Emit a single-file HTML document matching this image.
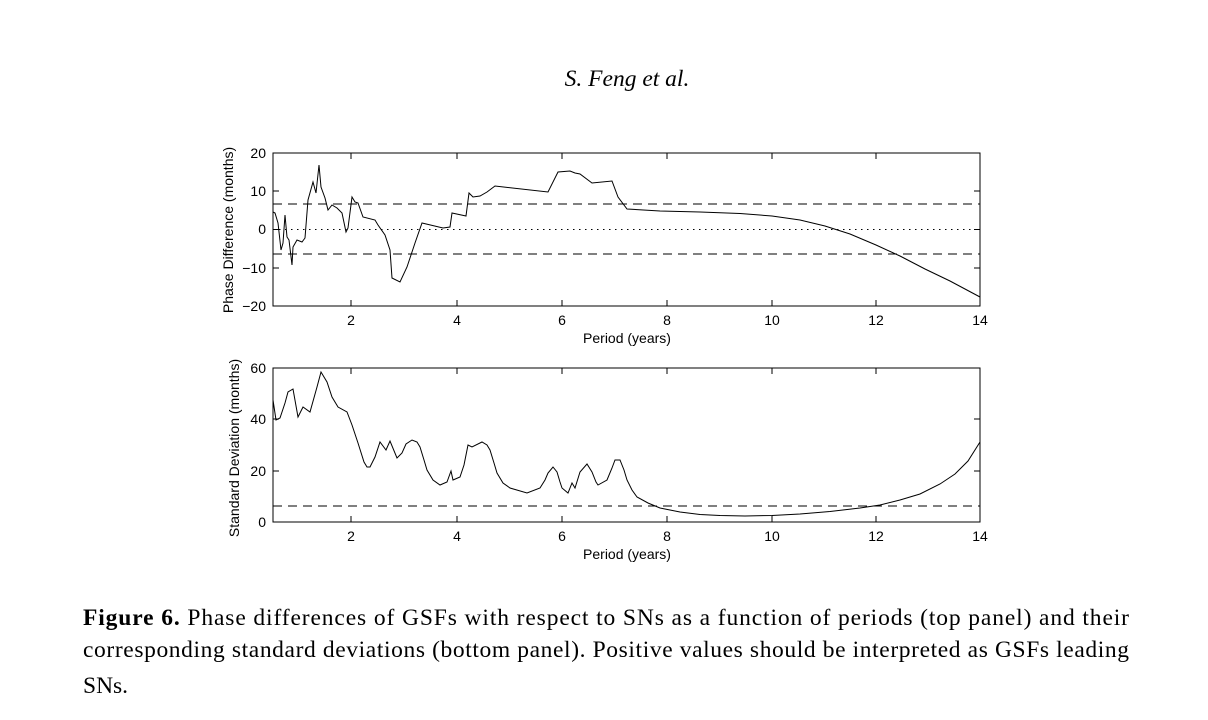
<!DOCTYPE html>
<html><head><meta charset="utf-8"><style>
body{margin:0;background:#fff;width:1208px;height:720px;overflow:hidden}
svg{display:block}
.t{font-family:"Liberation Sans",sans-serif;font-size:14px;fill:#000}
.s{font-family:"Liberation Serif",serif;font-size:23.5px;fill:#000}
</style></head><body>
<svg width="1208" height="720" viewBox="0 0 1208 720">
<text class="s" x="627" y="86" text-anchor="middle" font-style="italic" font-size="23">S. Feng et al.</text>

<!-- top panel -->
<rect x="273" y="153" width="707" height="153" fill="none" stroke="#000" stroke-width="1"/>
<g stroke="#000" stroke-width="1">
<line x1="351" y1="306" x2="351" y2="300"/><line x1="351" y1="153" x2="351" y2="159"/>
<line x1="457" y1="306" x2="457" y2="300"/><line x1="457" y1="153" x2="457" y2="159"/>
<line x1="562" y1="306" x2="562" y2="300"/><line x1="562" y1="153" x2="562" y2="159"/>
<line x1="667" y1="306" x2="667" y2="300"/><line x1="667" y1="153" x2="667" y2="159"/>
<line x1="772" y1="306" x2="772" y2="300"/><line x1="772" y1="153" x2="772" y2="159"/>
<line x1="876" y1="306" x2="876" y2="300"/><line x1="876" y1="153" x2="876" y2="159"/>
<line x1="273" y1="191" x2="279" y2="191"/><line x1="980" y1="191" x2="974" y2="191"/>
<line x1="273" y1="229.5" x2="279" y2="229.5"/><line x1="980" y1="229.5" x2="974" y2="229.5"/>
<line x1="273" y1="268" x2="279" y2="268"/><line x1="980" y1="268" x2="974" y2="268"/>
</g>
<line x1="273" y1="204" x2="980" y2="204" stroke="#000" stroke-dasharray="9,6"/>
<line x1="273" y1="254" x2="980" y2="254" stroke="#000" stroke-dasharray="9,6"/>
<line x1="273" y1="229.5" x2="980" y2="229.5" stroke="#000" stroke-dasharray="1.5,4.5"/>
<polyline fill="none" stroke="#000" stroke-width="1" points="273,212 275,213 278,223 281,250 283,243 285,215 287,237 289,240 292,265 293,247 297,240 302,242 305,238 308,200 313,182 316,193 319,165 321,187 325,198 328,210 332,205 337,208 342,213 346,232 348,228 352,197 355,202 358,203 363,217 375,220 378,225 385,235 390,250 392,278 400,282 407,267 415,243 422,223 443,228 450,227 452,213 466,216 469,193 473,197 480,196 487,192 495,186 548,192 558,172 570,171 575,173 580,174 592,183 612,181 618,197 627,209 660,211 700,212 740,213.5 772,216 800,220 825,226 850,234 876,245 900,256 925,269 950,281 965,289 980,297"/>
<g class="t">
<text x="266" y="158" text-anchor="end">20</text>
<text x="266" y="196" text-anchor="end">10</text>
<text x="266" y="234" text-anchor="end">0</text>
<text x="266" y="273" text-anchor="end">−10</text>
<text x="266" y="311" text-anchor="end">−20</text>
<text x="351" y="325" text-anchor="middle">2</text>
<text x="457" y="325" text-anchor="middle">4</text>
<text x="562" y="325" text-anchor="middle">6</text>
<text x="667" y="325" text-anchor="middle">8</text>
<text x="772" y="325" text-anchor="middle">10</text>
<text x="876" y="325" text-anchor="middle">12</text>
<text x="980" y="325" text-anchor="middle">14</text>
<text x="627" y="343" text-anchor="middle">Period (years)</text>
<text transform="translate(233,230) rotate(-90)" text-anchor="middle">Phase Difference (months)</text>
</g>

<!-- bottom panel -->
<rect x="273" y="368" width="707" height="154" fill="none" stroke="#000" stroke-width="1"/>
<g stroke="#000" stroke-width="1">
<line x1="351" y1="522" x2="351" y2="516"/><line x1="351" y1="368" x2="351" y2="374"/>
<line x1="457" y1="522" x2="457" y2="516"/><line x1="457" y1="368" x2="457" y2="374"/>
<line x1="562" y1="522" x2="562" y2="516"/><line x1="562" y1="368" x2="562" y2="374"/>
<line x1="667" y1="522" x2="667" y2="516"/><line x1="667" y1="368" x2="667" y2="374"/>
<line x1="772" y1="522" x2="772" y2="516"/><line x1="772" y1="368" x2="772" y2="374"/>
<line x1="876" y1="522" x2="876" y2="516"/><line x1="876" y1="368" x2="876" y2="374"/>
<line x1="273" y1="419" x2="279" y2="419"/><line x1="980" y1="419" x2="974" y2="419"/>
<line x1="273" y1="471" x2="279" y2="471"/><line x1="980" y1="471" x2="974" y2="471"/>
</g>
<line x1="273" y1="506" x2="980" y2="506" stroke="#000" stroke-dasharray="9,6"/>
<polyline fill="none" stroke="#000" stroke-width="1" points="273,400 276,420 280,418 285,403 288,392 293,389 298,417 303,407 310,412 317,387 321,372 327,382 332,397 338,407 347,412 352,425 358,443 364,462 367,467 370,467 375,457 380,442 386,450 390,441 397,458 402,453 406,444 412,440 417,442 420,447 424,460 427,470 433,480 440,485 447,482 451,471 453,480 460,477 464,465 468,445 472,447 482,442 487,445 490,450 494,463 497,473 503,483 510,488 527,493 540,488 545,480 548,473 553,467 557,472 560,482 562,488 568,493 572,483 575,488 580,472 587,464 592,472 596,482 598,485 607,480 612,468 615,460 620,460 624,470 627,480 632,490 637,497 648,503 660,508 680,512 700,514.5 720,515.5 745,516 772,515.5 800,514 830,511.5 860,508 880,505 900,500 920,494 940,484 955,474 968,461 980,442"/>
<g class="t">
<text x="266" y="373" text-anchor="end">60</text>
<text x="266" y="424" text-anchor="end">40</text>
<text x="266" y="476" text-anchor="end">20</text>
<text x="266" y="527" text-anchor="end">0</text>
<text x="351" y="541" text-anchor="middle">2</text>
<text x="457" y="541" text-anchor="middle">4</text>
<text x="562" y="541" text-anchor="middle">6</text>
<text x="667" y="541" text-anchor="middle">8</text>
<text x="772" y="541" text-anchor="middle">10</text>
<text x="876" y="541" text-anchor="middle">12</text>
<text x="980" y="541" text-anchor="middle">14</text>
<text x="627" y="559" text-anchor="middle">Period (years)</text>
<text transform="translate(239,448) rotate(-90)" text-anchor="middle">Standard Deviation (months)</text>
</g>

<text class="s" x="83" y="625" textLength="1046" lengthAdjust="spacing"><tspan font-weight="bold">Figure 6.</tspan>  Phase differences of GSFs with respect to SNs as a function of periods (top panel) and their</text>
<text class="s" x="83" y="657" textLength="1046" lengthAdjust="spacing">corresponding standard deviations (bottom panel).  Positive values should be interpreted as GSFs leading</text>
<text class="s" x="83" y="693">SNs.</text>
</svg>
</body></html>
